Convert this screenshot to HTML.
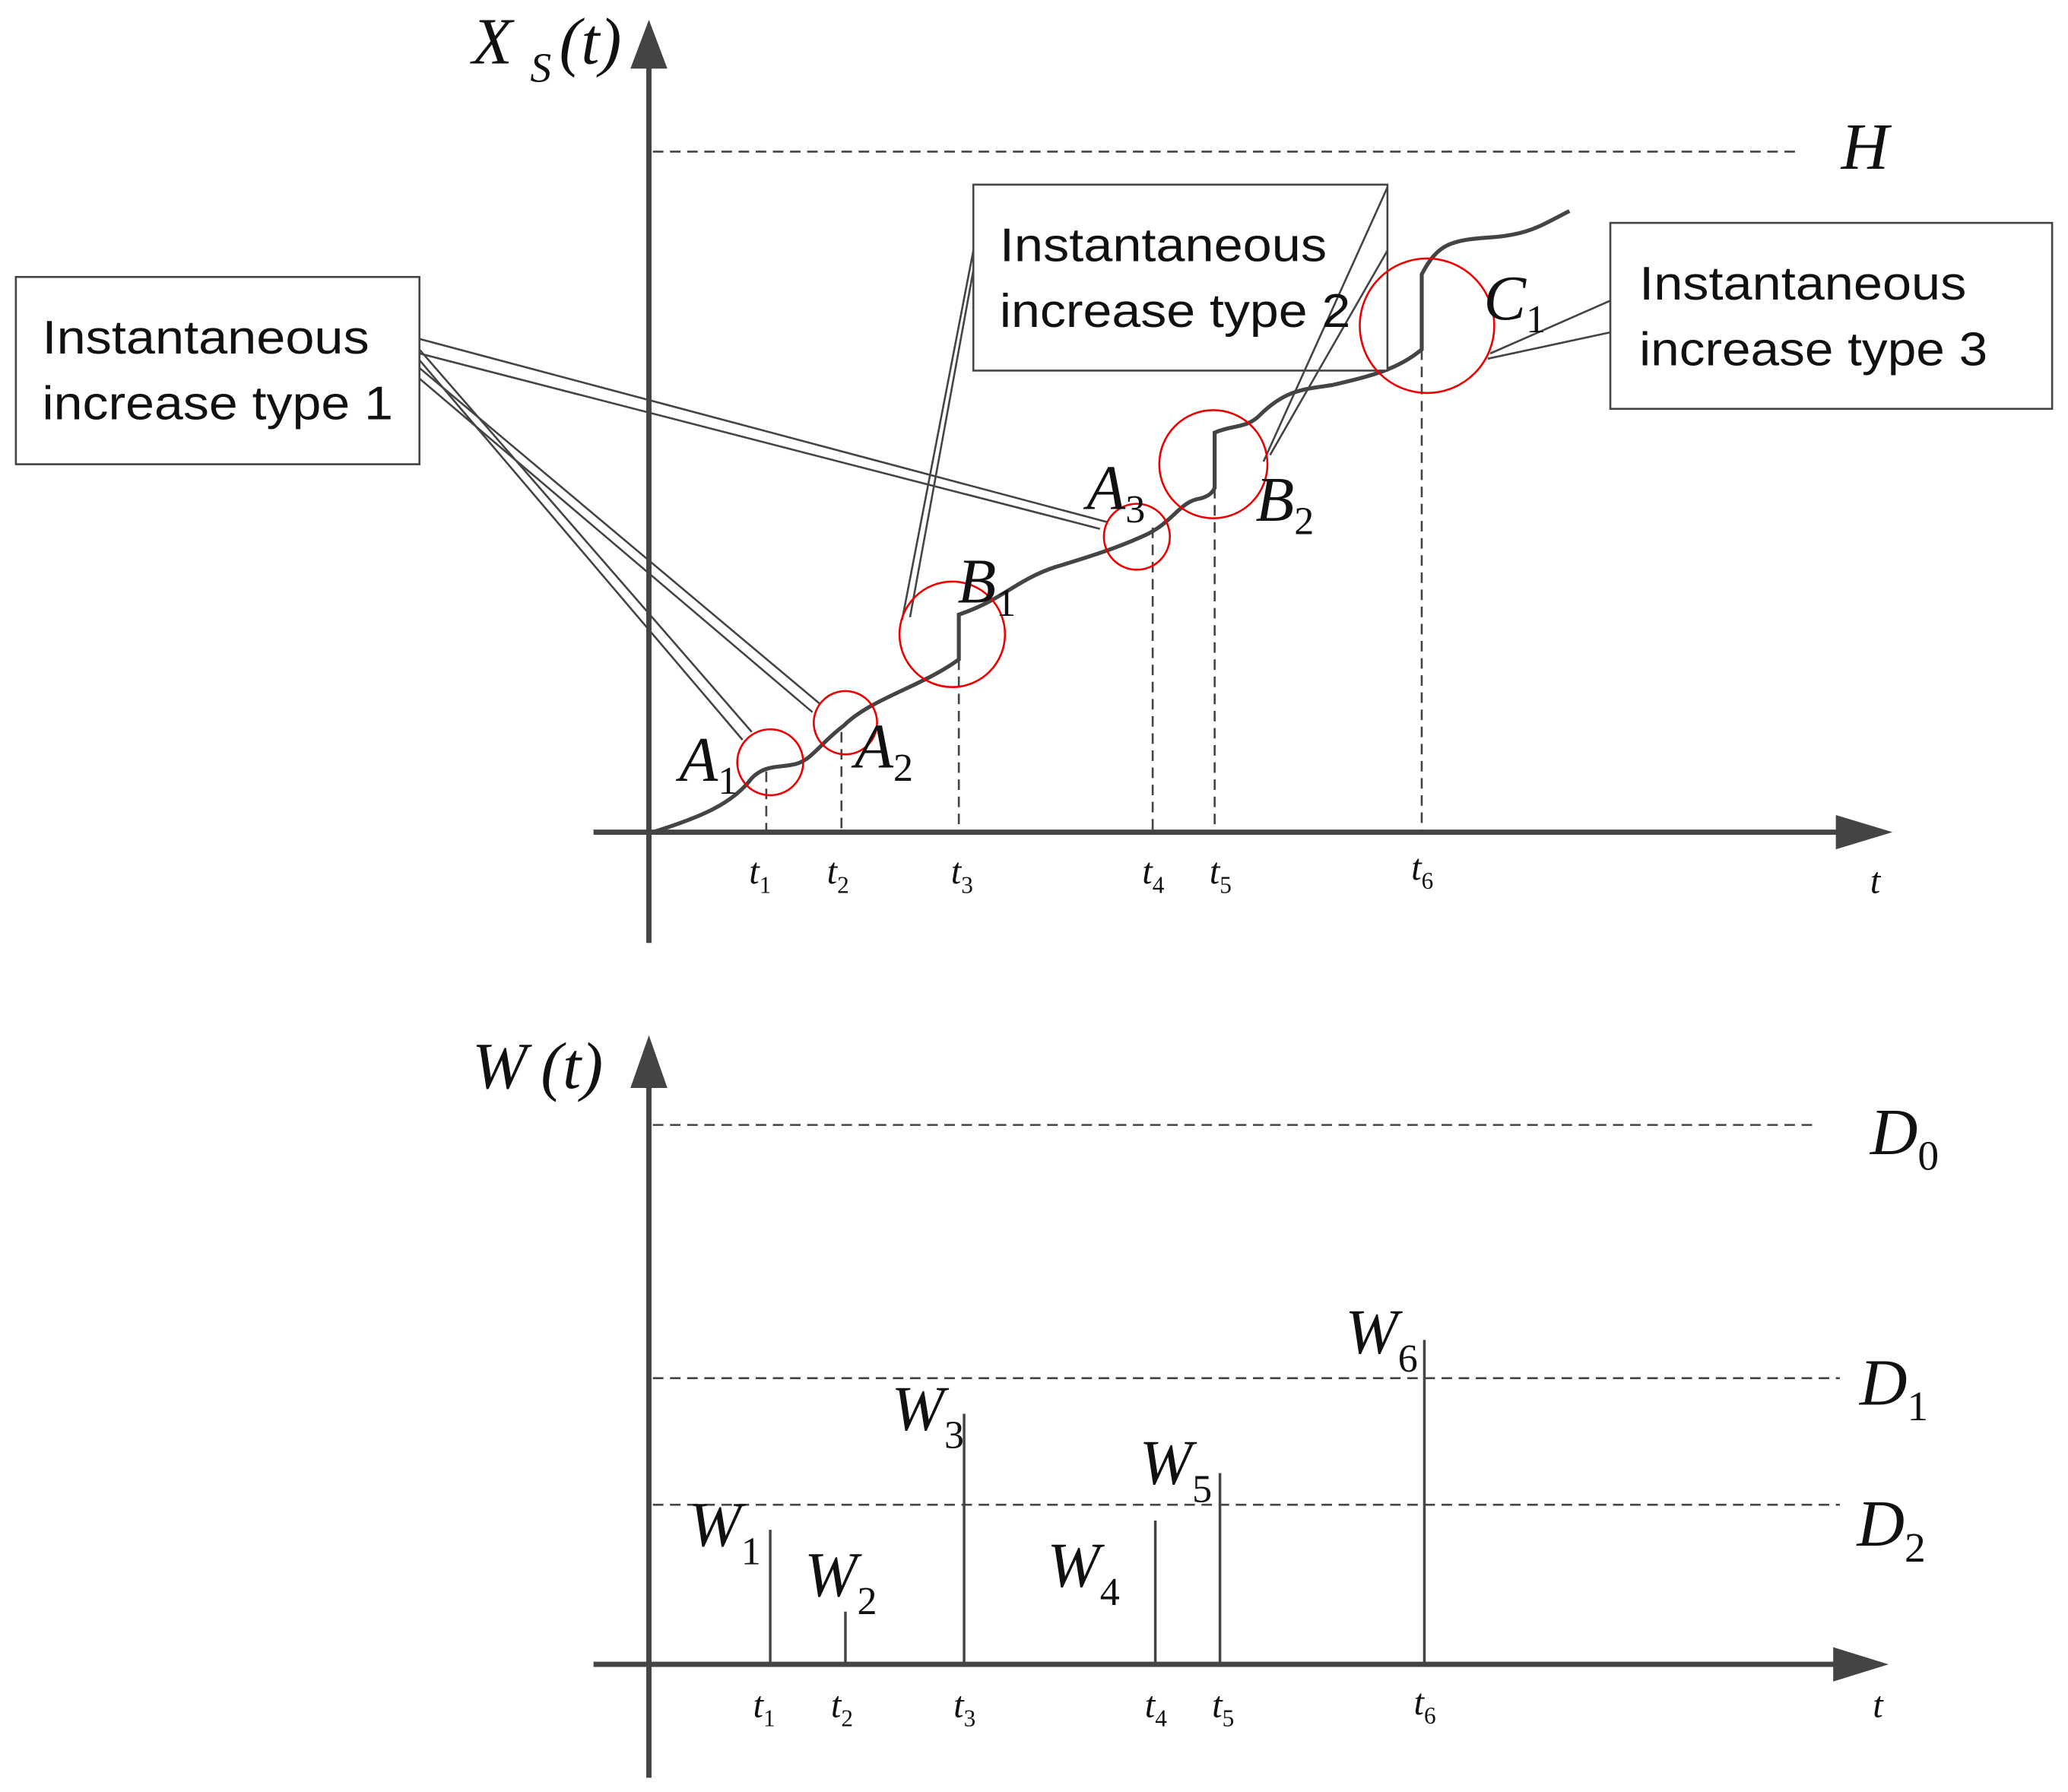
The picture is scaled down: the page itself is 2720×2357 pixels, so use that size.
<!DOCTYPE html>
<html><head><meta charset="utf-8"><style>
html,body{margin:0;padding:0;background:#fff}
svg{display:block}
.m{font-family:"Liberation Serif",serif;font-style:italic;fill:#111}
.b{font-family:"Liberation Sans",sans-serif;font-size:36px;fill:#111}
</style></head><body>
<svg width="2720" height="2357" viewBox="0 0 1568 1358.8" xmlns="http://www.w3.org/2000/svg">
<g stroke="#444" fill="none">
<line x1="492" y1="40" x2="492" y2="715" stroke-width="4"/>
<line x1="450" y1="631" x2="1400" y2="631" stroke-width="4"/>
<g stroke-dasharray="8,5" stroke-width="1.5">
<line x1="495" y1="115" x2="1365" y2="115"/>
<line x1="581" y1="585" x2="581" y2="631"/>
<line x1="638" y1="555" x2="638" y2="631"/>
<line x1="727" y1="500" x2="727" y2="631"/>
<line x1="874" y1="400" x2="874" y2="631"/>
<line x1="921" y1="370" x2="921" y2="631"/>
<line x1="1078" y1="265" x2="1078" y2="631"/>
<line x1="495" y1="853" x2="1375" y2="853"/>
<line x1="495" y1="1045" x2="1395" y2="1045"/>
<line x1="495" y1="1141" x2="1395" y2="1141"/>
</g>
<path d="M495,631 C530,620 555,610 570,590 C580,580 590,582 600,580 C615,578 620,565 640,550 C660,530 700,520 727,500 L727,466 C760,455 770,440 800,430 C840,418 855,412 870,405 C890,395 895,380 910,378 C918,376 920,372 921,370 L921,328 C935,322 945,325 955,315 C975,295 990,295 1010,292 C1040,285 1060,280 1078,265 L1078,208 C1090,185 1100,182 1130,180 C1160,178 1170,170 1190,160" stroke-width="3"/>
<g stroke-width="1.5">
<line x1="318" y1="257" x2="840" y2="396"/>
<line x1="318" y1="268" x2="834" y2="401"/>
<line x1="318" y1="265" x2="570" y2="555"/>
<line x1="318" y1="273" x2="563" y2="561"/>
<line x1="318" y1="279" x2="622" y2="534"/>
<line x1="318" y1="287" x2="616" y2="540"/>
<line x1="738" y1="190" x2="684" y2="470"/>
<line x1="738" y1="205" x2="690" y2="468"/>
<line x1="1221" y1="228" x2="1130" y2="268"/>
<line x1="1221" y1="252" x2="1128" y2="272"/>
</g>
<rect x="12" y="210" width="306" height="142" fill="#fff" stroke-width="1.5"/>
<rect x="738" y="140" width="314" height="141" fill="#fff" stroke-width="1.5"/>
<rect x="1221" y="169" width="335" height="141" fill="#fff" stroke-width="1.5"/>
<g stroke-width="1.5">
<line x1="1052" y1="142" x2="958" y2="350"/>
<line x1="1052" y1="190" x2="963" y2="345"/>
</g>
<line x1="492" y1="810" x2="492" y2="1348" stroke-width="4"/>
<line x1="450" y1="1262" x2="1400" y2="1262" stroke-width="4"/>
<g stroke-width="2">
<line x1="584" y1="1160" x2="584" y2="1262"/>
<line x1="641" y1="1222" x2="641" y2="1262"/>
<line x1="731" y1="1072" x2="731" y2="1262"/>
<line x1="876" y1="1153" x2="876" y2="1262"/>
<line x1="925" y1="1117" x2="925" y2="1262"/>
<line x1="1080" y1="1016" x2="1080" y2="1262"/>
</g>
</g>
<g stroke="#e00" fill="none" stroke-width="1.5">
<circle cx="584" cy="578" r="25"/>
<circle cx="641" cy="548" r="24"/>
<circle cx="722" cy="481" r="40"/>
<circle cx="862" cy="407" r="25"/>
<circle cx="920" cy="352" r="41"/>
<circle cx="1082" cy="247" r="51"/>
</g>
<g fill="#444">
<polygon points="492,15 478,52 506,52"/>
<polygon points="1435,631 1392,618 1392,644"/>
<polygon points="492,785 478,825 506,825"/>
<polygon points="1432,1262 1390,1249 1390,1275"/>
</g>
<text class="b" x="32" y="268" textLength="248" lengthAdjust="spacingAndGlyphs">Instantaneous</text>
<text class="b" x="32" y="318" textLength="266" lengthAdjust="spacingAndGlyphs">increase type 1</text>
<text class="b" x="758" y="198" textLength="248" lengthAdjust="spacingAndGlyphs">Instantaneous</text>
<text class="b" x="758" y="248" textLength="266" lengthAdjust="spacingAndGlyphs">increase type 2</text>
<text class="b" x="1243" y="227" textLength="248" lengthAdjust="spacingAndGlyphs">Instantaneous</text>
<text class="b" x="1243" y="277" textLength="264" lengthAdjust="spacingAndGlyphs">increase type 3</text>
<text class="m" x="358" y="48" font-size="50">X</text>
<text class="m" x="402" y="62" font-size="32">S</text>
<text class="m" x="424" y="48" font-size="50">(t)</text>
<text class="m" x="1396" y="128" font-size="50">H</text>
<text class="m" x="358" y="825" font-size="50">W</text>
<text class="m" x="410" y="825" font-size="50">(t)</text>
<text class="m" x="1418" y="875" font-size="50">D<tspan font-size="32" font-style="normal" dy="12">0</tspan></text>
<text class="m" x="1410" y="1065" font-size="50">D<tspan font-size="32" font-style="normal" dy="12">1</tspan></text>
<text class="m" x="1408" y="1172" font-size="50">D<tspan font-size="32" font-style="normal" dy="12">2</tspan></text>
<text class="m" x="515" y="592" font-size="48">A<tspan font-size="30" font-style="normal" dy="10">1</tspan></text>
<text class="m" x="648" y="582" font-size="48">A<tspan font-size="30" font-style="normal" dy="10">2</tspan></text>
<text class="m" x="726" y="457" font-size="48">B<tspan font-size="30" font-style="normal" dy="10">1</tspan></text>
<text class="m" x="824" y="386" font-size="48">A<tspan font-size="30" font-style="normal" dy="10">3</tspan></text>
<text class="m" x="952" y="395" font-size="48">B<tspan font-size="30" font-style="normal" dy="10">2</tspan></text>
<text class="m" x="1125" y="242" font-size="48">C<tspan font-size="30" font-style="normal" dy="10">1</tspan></text>
<text class="m" x="522" y="1172" font-size="48">W<tspan font-size="30" font-style="normal" dy="14">1</tspan></text>
<text class="m" x="610" y="1210" font-size="48">W<tspan font-size="30" font-style="normal" dy="14">2</tspan></text>
<text class="m" x="676" y="1084" font-size="48">W<tspan font-size="30" font-style="normal" dy="14">3</tspan></text>
<text class="m" x="794" y="1203" font-size="48">W<tspan font-size="30" font-style="normal" dy="14">4</tspan></text>
<text class="m" x="864" y="1125" font-size="48">W<tspan font-size="30" font-style="normal" dy="14">5</tspan></text>
<text class="m" x="1020" y="1026" font-size="48">W<tspan font-size="30" font-style="normal" dy="14">6</tspan></text>
<g class="m" font-size="28">
<text x="568" y="670">t<tspan font-size="18" font-style="normal" dy="7">1</tspan></text>
<text x="627" y="670">t<tspan font-size="18" font-style="normal" dy="7">2</tspan></text>
<text x="721" y="670">t<tspan font-size="18" font-style="normal" dy="7">3</tspan></text>
<text x="866" y="670">t<tspan font-size="18" font-style="normal" dy="7">4</tspan></text>
<text x="917" y="670">t<tspan font-size="18" font-style="normal" dy="7">5</tspan></text>
<text x="1070" y="667">t<tspan font-size="18" font-style="normal" dy="7">6</tspan></text>
<text x="1418" y="677">t</text>
<text x="571" y="1302">t<tspan font-size="18" font-style="normal" dy="7">1</tspan></text>
<text x="630" y="1302">t<tspan font-size="18" font-style="normal" dy="7">2</tspan></text>
<text x="723" y="1302">t<tspan font-size="18" font-style="normal" dy="7">3</tspan></text>
<text x="868" y="1302">t<tspan font-size="18" font-style="normal" dy="7">4</tspan></text>
<text x="919" y="1302">t<tspan font-size="18" font-style="normal" dy="7">5</tspan></text>
<text x="1072" y="1300">t<tspan font-size="18" font-style="normal" dy="7">6</tspan></text>
<text x="1420" y="1302">t</text>
</g>
</svg>
</body></html>
